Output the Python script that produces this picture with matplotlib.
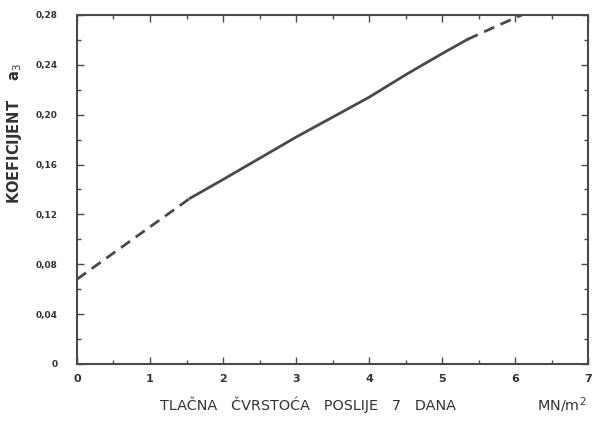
"""
Koeficijent a3 prema tlačnoj čvrstoći poslije 7 dana
"""

import matplotlib
matplotlib.use('Agg')
import matplotlib.pyplot as plt
from matplotlib.ticker import MultipleLocator, FuncFormatter

# Points (x in MN/m2, y = a3)
strength = [0.0, 0.5, 1.0, 1.55, 2.0, 2.5, 3.0, 3.5, 4.0, 4.5, 5.0, 5.35, 5.8, 6.15]
coef_a3 = [0.068, 0.089, 0.110, 0.133, 0.148, 0.165, 0.182, 0.198, 0.214, 0.232, 0.249, 0.2605, 0.2725, 0.2815]

# Measured range is solid, extrapolation dashed
solid_from = 3
solid_to = 11

x_ticks = [0, 1, 2, 3, 4, 5, 6, 7]
y_ticks = [0, 0.04, 0.08, 0.12, 0.16, 0.20, 0.24, 0.28]

ink = '#4a4a4a'
txt = '#333333'

fig = plt.figure(figsize=(5.93, 4.21), dpi=100)
ax = fig.add_axes([0.1298, 0.1354, 0.862, 0.829])

ax.plot(strength[:solid_from + 1], coef_a3[:solid_from + 1],
        color=ink, linewidth=2.0, linestyle=(0, (4, 2.5)))
ax.plot(strength[solid_from:solid_to + 1], coef_a3[solid_from:solid_to + 1],
        color=ink, linewidth=2.0)
ax.plot(strength[solid_to:], coef_a3[solid_to:],
        color=ink, linewidth=2.0, linestyle=(0, (4, 2.5)))

ax.set_xlim(0, 7)
ax.set_ylim(0, 0.28)
ax.set_xticks(x_ticks)
ax.set_yticks(y_ticks)
ax.xaxis.set_minor_locator(MultipleLocator(0.5))
ax.yaxis.set_minor_locator(MultipleLocator(0.02))


def comma_fmt(v, pos):
    if abs(v) < 1e-9:
        return '0'
    return f'{v:.2f}'.replace('.', ',')


ax.yaxis.set_major_formatter(FuncFormatter(comma_fmt))

for side in ax.spines.values():
    side.set_linewidth(1.5)
    side.set_color(ink)

ax.tick_params(which='both', direction='in', top=True, right=True,
               color=ink, width=1.0)
ax.tick_params(which='major', length=5)
ax.tick_params(which='minor', length=3)
ax.tick_params(axis='x', labelsize=8, labelcolor=txt, pad=7)
ax.tick_params(axis='y', labelsize=6.5, labelcolor=txt, pad=14)
for lbl in ax.get_yticklabels() + ax.get_xticklabels():
    lbl.set_fontweight('bold')

fig.text(0.024, 0.684, 'KOEFICIJENT    a$_3$', fontsize=10.5, fontweight='bold',
         color=txt, rotation=90, ha='center', va='center')
fig.text(0.27, 0.025, 'TLAČNA   ČVRSTOĆA   POSLIJE   7   DANA', fontsize=10.4,
         color=txt, ha='left', va='baseline')
fig.text(0.905, 0.025, 'MN/m$^2$', fontsize=10.4, color=txt,
         ha='left', va='baseline')

fig.savefig('out.png', dpi=100)
plt.close(fig)
